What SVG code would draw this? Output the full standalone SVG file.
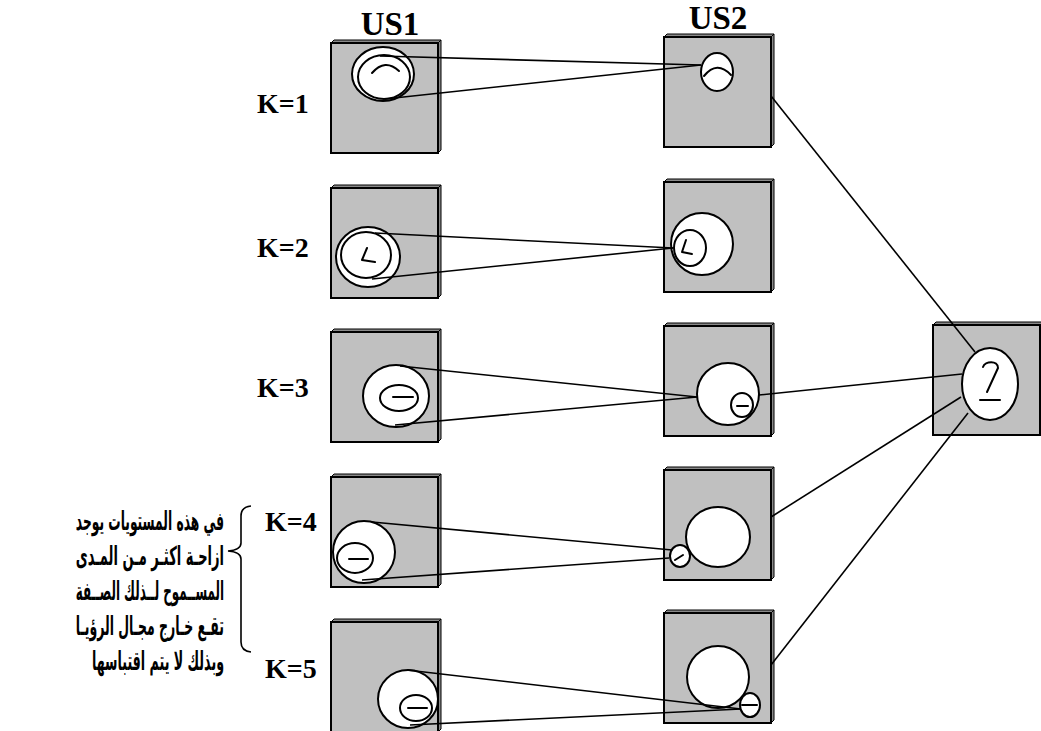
<svg xmlns="http://www.w3.org/2000/svg" width="1041" height="731" viewBox="0 0 1041 731">
  <style>
    .face { fill: #c0c0c0; stroke: #000; stroke-width: 2; }
    .bevel { fill: #8a8a8a; stroke: #000; stroke-width: 1; stroke-linejoin: round; }
    .disc { fill: #fff; stroke: #000; stroke-width: 2; }
    .mark { fill: none; stroke: #000; stroke-width: 2; stroke-linecap: round; stroke-linejoin: round; }
    .wire { fill: none; stroke: #000; stroke-width: 1.6; }
    .head { font-family: "Liberation Serif", "Times New Roman", serif; font-weight: bold; font-size: 33px; fill: #000; }
    .lvl { font-family: "Liberation Serif", "Times New Roman", serif; font-weight: bold; font-size: 28px; fill: #000; }
    .note { font-family: "DejaVu Sans", "Noto Sans", sans-serif; font-weight: bold; font-size: 26px; fill: #000; }
  </style>
  <defs>
    <!-- bevelled slab: top and right edge strips plus the front face -->
    <g id="slab107">
      <polygon class="bevel" points="0,0 3,-3 110,-3 107,0"/>
      <polygon class="bevel" points="107,0 110,-3 110,107 107,110"/>
      <rect class="face" x="0" y="0" width="107" height="110"/>
    </g>
  </defs>

  <!-- column headings -->
  <text class="head" x="390" y="35" text-anchor="middle">US1</text>
  <text class="head" x="718" y="29" text-anchor="middle">US2</text>

  <!-- level labels -->
  <g id="levels">
    <text class="lvl" x="257" y="113">K=1</text>
    <text class="lvl" x="257" y="257">K=2</text>
    <text class="lvl" x="257" y="397">K=3</text>
    <text class="lvl" x="265" y="531">K=4</text>
    <text class="lvl" x="265" y="678">K=5</text>
  </g>

  <!-- US1 column -->
  <g id="us1-k1">
    <use href="#slab107" x="331" y="43"/>
    <ellipse class="disc" cx="383" cy="74" rx="31" ry="27"/>
    <ellipse class="disc" cx="384" cy="77" rx="26" ry="22"/>
    <path class="mark" d="M372,73 Q385,58 399,71"/>
  </g>
  <g id="us1-k2">
    <use href="#slab107" x="331" y="188"/>
    <ellipse class="disc" cx="368" cy="257" rx="32" ry="30"/>
    <ellipse class="disc" cx="366" cy="255" rx="25" ry="23"/>
    <polyline class="mark" points="367,248 362,260 375,262"/>
  </g>
  <g id="us1-k3">
    <use href="#slab107" x="331" y="332"/>
    <ellipse class="disc" cx="396" cy="396" rx="33" ry="31"/>
    <ellipse class="disc" cx="399" cy="398" rx="19" ry="13"/>
    <line class="mark" x1="393" y1="397" x2="413" y2="397"/>
  </g>
  <g id="us1-k4">
    <use href="#slab107" x="331" y="477"/>
    <ellipse class="disc" cx="364" cy="552" rx="31" ry="31"/>
    <ellipse class="disc" cx="355" cy="558" rx="18" ry="15"/>
    <line class="mark" x1="349" y1="559" x2="368" y2="559"/>
  </g>
  <g id="us1-k5">
    <use href="#slab107" x="331" y="622"/>
    <ellipse class="disc" cx="408" cy="699" rx="30" ry="29"/>
    <ellipse class="disc" cx="416" cy="708" rx="16" ry="13"/>
    <line class="mark" x1="408" y1="708" x2="427" y2="708"/>
  </g>

  <!-- US2 column -->
  <g id="us2-k1">
    <use href="#slab107" x="664" y="37"/>
    <ellipse class="disc" cx="717" cy="72" rx="16" ry="19"/>
    <path class="mark" d="M704,76 Q717,60 731,75"/>
  </g>
  <g id="us2-k2">
    <use href="#slab107" x="664" y="182"/>
    <ellipse class="disc" cx="702" cy="244" rx="31" ry="31"/>
    <ellipse class="disc" cx="690" cy="248" rx="16" ry="18"/>
    <polyline class="mark" points="686,240 682,252 692,254"/>
  </g>
  <g id="us2-k3">
    <use href="#slab107" x="664" y="326"/>
    <ellipse class="disc" cx="728" cy="394" rx="31" ry="31"/>
    <ellipse class="disc" cx="742" cy="405" rx="11" ry="12"/>
    <line class="mark" x1="737" y1="406" x2="748" y2="406"/>
  </g>
  <g id="us2-k4">
    <use href="#slab107" x="664" y="470"/>
    <ellipse class="disc" cx="718" cy="537" rx="32" ry="30"/>
    <ellipse class="disc" cx="680" cy="556" rx="10" ry="11"/>
    <line class="mark" x1="675" y1="560" x2="683" y2="555"/>
  </g>
  <g id="us2-k5">
    <use href="#slab107" x="664" y="613"/>
    <ellipse class="disc" cx="718" cy="677" rx="31" ry="31"/>
    <ellipse class="disc" cx="750" cy="705" rx="10" ry="12"/>
    <line class="mark" x1="742" y1="705" x2="757" y2="705"/>
  </g>

  <!-- merged feature -->
  <g id="merged">
    <use href="#slab107" x="933" y="325"/>
    <ellipse class="disc" cx="990" cy="384" rx="28" ry="36"/>
    <path class="mark" d="M983,367 C985,361 998,360 998,368 L987,392"/>
    <line class="mark" x1="980" y1="400" x2="1000" y2="400"/>
  </g>

  <!-- connectors -->
  <g id="connectors">
    <line class="wire" x1="380" y1="56" x2="701" y2="65"/>
    <line class="wire" x1="385" y1="99" x2="701" y2="65"/>
    <line class="wire" x1="375" y1="233" x2="673" y2="248"/>
    <line class="wire" x1="372" y1="279" x2="673" y2="248"/>
    <line class="wire" x1="400" y1="366" x2="697" y2="397"/>
    <line class="wire" x1="395" y1="425" x2="697" y2="397"/>
    <line class="wire" x1="372" y1="522" x2="672" y2="550"/>
    <line class="wire" x1="362" y1="580" x2="669" y2="558"/>
    <line class="wire" x1="407" y1="670" x2="741" y2="709"/>
    <line class="wire" x1="410" y1="725" x2="741" y2="709"/>
    <line class="wire" x1="771" y1="96" x2="975" y2="352"/>
    <line class="wire" x1="759" y1="395" x2="962" y2="374"/>
    <line class="wire" x1="771" y1="517" x2="961" y2="397"/>
    <line class="wire" x1="771" y1="665" x2="968" y2="413"/>
  </g>

  <!-- brace and note (condensed horizontally to fit the column) -->
  <path class="wire" d="M251,506 Q241,507 241,516 L241,543 Q241,550 228,551 Q241,552 241,559 L241,642 Q241,651 251,652" stroke-width="1.5"/>
  <g id="note" class="note" text-anchor="end">
    <text transform="translate(224,530) scale(0.6,1)" x="0" y="0" textLength="247" lengthAdjust="spacingAndGlyphs">في هذه المستويات يوجد</text>
    <text transform="translate(224,565) scale(0.6,1)" x="0" y="0" textLength="247" lengthAdjust="spacingAndGlyphs">ازاحـة اكثـر مـن المـدى</text>
    <text transform="translate(224,600) scale(0.6,1)" x="0" y="0" textLength="247" lengthAdjust="spacingAndGlyphs">المســموح لــذلك الصــفة</text>
    <text transform="translate(224,635) scale(0.6,1)" x="0" y="0" textLength="247" lengthAdjust="spacingAndGlyphs">تقـع خـارج مجـال الرؤيـا</text>
    <text transform="translate(224,670) scale(0.6,1)" x="0" y="0" textLength="220" lengthAdjust="spacingAndGlyphs">وبذلك لا يتم اقتباسها</text>
  </g>
</svg>
